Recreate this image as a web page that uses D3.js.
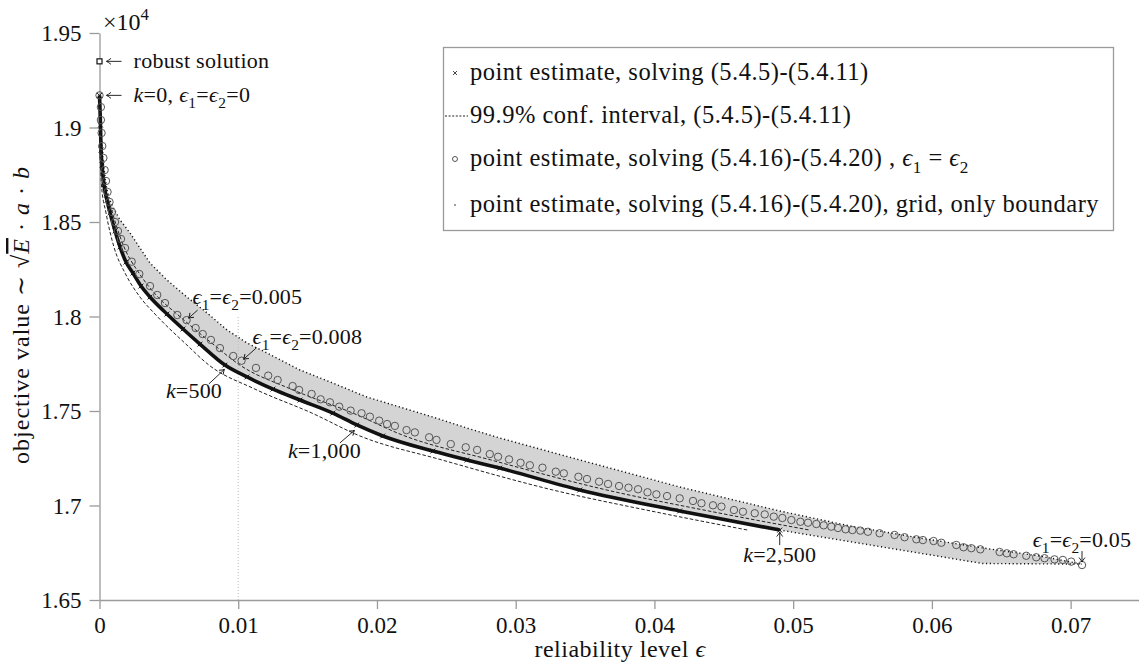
<!DOCTYPE html>
<html>
<head>
<meta charset="utf-8">
<title>objective value vs reliability level</title>
<style>
  body { margin: 0; background: #fff; }
  svg text { font-family: "Liberation Serif", "Times New Roman", "DejaVu Serif", serif; fill: #111; }
</style>
</head>
<body>
<script src="https://d3js.org/d3.v7.min.js"></script>
<script>

var width = 1139,
    height = 662,
    epsMax = 0.075,
    valMin = 1.65,
    valMax = 1.95,
    serif = "'Liberation Serif', 'Times New Roman', 'DejaVu Serif', serif";

// ticks
var epsTicks = [0, 0.01, 0.02, 0.03, 0.04, 0.05, 0.06, 0.07];
var epsTickLabels = ["0", "0.01", "0.02", "0.03", "0.04", "0.05", "0.06", "0.07"];
var valTicks = [1.65, 1.7, 1.75, 1.8, 1.85, 1.9, 1.95];
var valTickLabels = ["1.65", "1.7", "1.75", "1.8", "1.85", "1.9", "1.95"];

// point estimate, solving (5.4.5)-(5.4.11)  (k = 0 ... 2500)
var crossEps = [0, 0.00007, 0.00011, 0.00018, 0.00032, 0.00054, 0.00076, 0.00112, 0.00148, 0.00191,
                0.00241, 0.00299, 0.00364, 0.00486, 0.00602, 0.00724, 0.00904, 0.01063, 0.0125, 0.01445,
                0.01682, 0.01855, 0.02042, 0.02403, 0.02648, 0.02885, 0.03462, 0.04182, 0.04903];
var crossVal = [1.917, 1.9013, 1.8881, 1.8802, 1.8696, 1.8616, 1.8548, 1.8452, 1.8368, 1.8288,
                1.8230, 1.8161, 1.8103, 1.8013, 1.7934, 1.7854, 1.7743, 1.7680, 1.7616, 1.7558,
                1.7489, 1.7426, 1.7368, 1.7288, 1.7241, 1.7198, 1.7082, 1.6971, 1.6870];

// 99.9% confidence interval
var ciUpperEps = [0, 0.00011, 0.00043, 0.00094, 0.00177, 0.00285, 0.00421, 0.00558, 0.00818, 0.01012,
                  0.0138, 0.01826, 0.02201, 0.02821, 0.03656, 0.04391, 0.05119];
var ciLowerEps = [0, 0.00005, 0.00014, 0.00047, 0.00104, 0.00184, 0.00292, 0.004, 0.00623, 0.00789,
                  0.0112, 0.01531, 0.01877, 0.02468, 0.03268, 0.03974, 0.04672];
var ciVal = [1.917, 1.8881, 1.8696, 1.8548, 1.8368, 1.8230, 1.8103, 1.8013, 1.7854, 1.7743,
             1.7616, 1.7489, 1.7368, 1.7241, 1.7082, 1.6971, 1.6870];

// point estimate, solving (5.4.16)-(5.4.20), eps1 = eps2
var circleEps = [0, 0.0001, 0.0001, 0.00015, 0.0002, 0.00028, 0.00037, 0.00047, 0.00058, 0.00072,
                 0.0009, 0.00112, 0.00133, 0.00155, 0.00184, 0.00232, 0.00287, 0.00364, 0.00416, 0.00472,
                 0.00561, 0.00628, 0.00693, 0.00744, 0.00803, 0.00868, 0.00964, 0.01024, 0.01128, 0.01216,
                 0.01284, 0.01392, 0.01439, 0.01529, 0.01594, 0.01661, 0.01728, 0.0181, 0.01889, 0.01949,
                 0.02016, 0.02073, 0.02129, 0.02213, 0.02273, 0.02376, 0.02429, 0.02532, 0.0264, 0.02722,
                 0.02813, 0.02873, 0.02952, 0.03035, 0.03102, 0.03193, 0.03289, 0.03347, 0.03452, 0.03514,
                 0.03601, 0.03666, 0.03745, 0.03813, 0.03882, 0.0395, 0.04014, 0.04091, 0.04182, 0.04278,
                 0.04339, 0.04422, 0.04483, 0.04573, 0.04638, 0.04723, 0.04795, 0.0486, 0.04922, 0.04987,
                 0.05052, 0.05107, 0.05167, 0.0522, 0.05275, 0.05323, 0.05378, 0.05427, 0.05484, 0.05539,
                 0.05623, 0.05731, 0.05803, 0.05888, 0.05935, 0.06012, 0.06068, 0.06176, 0.06228, 0.06284,
                 0.06349, 0.06488, 0.0654, 0.06589, 0.0668, 0.06752, 0.06812, 0.06884, 0.06944, 0.07004,
                 0.07082];
var circleVal = [1.917, 1.9108, 1.904, 1.8971, 1.8902, 1.8839, 1.8775, 1.8717, 1.8659, 1.8606,
                 1.8553, 1.85, 1.8452, 1.841, 1.8362, 1.829, 1.8225, 1.8161, 1.8114, 1.8071,
                 1.8008, 1.7981, 1.7939, 1.7907, 1.7876, 1.7833, 1.7791, 1.7766, 1.7728, 1.7687,
                 1.7664, 1.7632, 1.7611, 1.759, 1.7562, 1.7546, 1.7523, 1.7502, 1.7488, 1.747,
                 1.7449, 1.7431, 1.7421, 1.7399, 1.7387, 1.7361, 1.7347, 1.7325, 1.7308, 1.7294,
                 1.7272, 1.7258, 1.7244, 1.7226, 1.7213, 1.72, 1.7179, 1.717, 1.7152, 1.714,
                 1.7126, 1.7114, 1.7103, 1.7094, 1.7086, 1.707, 1.7059, 1.705, 1.7038, 1.7024,
                 1.7012, 1.7001, 1.6994, 1.6976, 1.6967, 1.6959, 1.6953, 1.6941, 1.6934, 1.6923,
                 1.6914, 1.6909, 1.6902, 1.6895, 1.6888, 1.6881, 1.6874, 1.687, 1.6867, 1.6861,
                 1.6853, 1.6844, 1.6832, 1.6821, 1.6817, 1.6812, 1.6803, 1.6791, 1.6779, 1.6774,
                 1.6768, 1.6754, 1.6747, 1.6742, 1.6734, 1.6726, 1.6721, 1.6715, 1.6712, 1.6703,
                 1.6685];

// grid, only boundary (upper edge and lower tail)
var gridUpperEps = [0, 0.0001, 0.00025, 0.00047, 0.00068, 0.00097, 0.00148, 0.0022, 0.00292, 0.00364,
                    0.00486, 0.0063, 0.00775, 0.00919, 0.01063, 0.01207, 0.01445, 0.01682, 0.01927, 0.02165,
                    0.02403, 0.02648, 0.02885, 0.03462, 0.04182, 0.04903, 0.05407, 0.05912, 0.06416, 0.06776,
                    0.07079];
var gridUpperVal = [1.917, 1.8987, 1.8828, 1.8696, 1.8627, 1.8579, 1.8511, 1.8442, 1.8362, 1.8283,
                    1.8193, 1.8103, 1.8019, 1.7929, 1.786, 1.7807, 1.7717, 1.7648, 1.7574, 1.7521,
                    1.7468, 1.741, 1.7357, 1.7241, 1.7098, 1.6971, 1.6892, 1.6828, 1.677, 1.6733,
                    1.669];
var gridLowerEps = [0.04903, 0.06365, 0.07079];
var gridLowerVal = [1.687, 1.6693, 1.669];

var robustEps = 0, robustVal = 1.935;
var refEps = 0.01, refVal = [1.65, 1.80];

var legendLabels = [
  [["point estimate, solving (5.4.5)-(5.4.11)"]],
  [["99.9% conf. interval, (5.4.5)-(5.4.11)"]],
  [["point estimate, solving (5.4.16)-(5.4.20) , "], ["\u03f5", "i"], ["1", "sub"], [" = "], ["\u03f5", "i"], ["2", "sub"]],
  [["point estimate, solving (5.4.16)-(5.4.20), grid, only boundary"]]
];

var svg = d3.select("body").append("svg")
    .attr("width", width)
    .attr("height", height)
    .attr("font-family", serif);

var x = d3.scaleLinear().domain([0, epsMax]).range([99.5, 1140]);
var y = d3.scaleLinear().domain([valMin, valMax]).range([600, 33]);

// text with italic / sub / sup / overline pieces
function rich(sel, parts, size, spacing) {
  var shift = 0;
  sel.style("font-family", serif).style("font-size", size + "px");
  if (spacing) sel.style("letter-spacing", spacing + "px");
  parts.forEach(function (p) {
    var want = p[1] === "sub" ? size * 0.28 : (p[1] === "sup" ? -size * 0.42 : 0);
    var ts = sel.append("tspan").text(p[0]).attr("dy", want - shift);
    shift = want;
    if (p[1] === "i") ts.style("font-style", "italic");
    if (p[1] === "sub" || p[1] === "sup") ts.style("font-size", (size * 0.7) + "px");
    if (p[1] === "ov") ts.style("font-style", "italic").attr("text-decoration", "overline");
  });
  return sel;
}

var defs = svg.append("defs");
defs.append("marker")
    .attr("id", "head")
    .attr("viewBox", "-6 -4 8 8")
    .attr("markerWidth", 8).attr("markerHeight", 8)
    .attr("markerUnits", "userSpaceOnUse")
    .attr("orient", "auto")
    .append("path")
    .attr("d", "M-4.5,-3 Q-1.5,-0.6 0,0 Q-1.5,0.6 -4.5,3")
    .attr("fill", "none").attr("stroke", "#111").attr("stroke-width", 0.9);

// shaded band
var upperPts = gridUpperEps.map(function (e, i) { return [e, gridUpperVal[i]]; });
var lowerTail = gridLowerEps.map(function (e, i) { return [e, gridLowerVal[i]]; });
var crossPts = crossEps.map(function (e, i) { return [e, crossVal[i]]; });
var bandPts = upperPts.concat(lowerTail.slice().reverse(), crossPts.slice().reverse());

var line = d3.line().x(function (d) { return x(d[0]); }).y(function (d) { return y(d[1]); });
var smooth = d3.line().x(function (d) { return x(d[0]); }).y(function (d) { return y(d[1]); })
    .curve(d3.curveMonotoneX);

svg.append("path")
    .attr("d", line(bandPts) + "Z")
    .attr("fill", "#d4d4d4")
    .attr("stroke", "none");

// reference line at eps = 0.01
svg.append("line")
    .attr("x1", x(refEps)).attr("x2", x(refEps))
    .attr("y1", y(refVal[0])).attr("y2", y(refVal[1]))
    .attr("stroke", "#bbb").attr("stroke-width", 1).attr("stroke-dasharray", "1,2");

// axes
var xAxis = svg.append("g")
    .attr("transform", "translate(0," + y(valMin) + ")")
    .call(d3.axisBottom(x).tickValues(epsTicks)
          .tickFormat(function (d, i) { return epsTickLabels[i]; })
          .tickSize(9).tickSizeOuter(0).tickPadding(5));
var yAxis = svg.append("g")
    .attr("transform", "translate(" + x(0) + ",0)")
    .call(d3.axisLeft(y).tickValues(valTicks)
          .tickFormat(function (d, i) { return valTickLabels[i]; })
          .tickSize(10).tickSizeOuter(0).tickPadding(8));

[xAxis, yAxis].forEach(function (g) {
  g.attr("font-family", serif);
  g.select(".domain").attr("stroke", "#9a9a9a").attr("stroke-width", 1.3);
  g.selectAll(".tick line").attr("stroke", "#9a9a9a").attr("stroke-width", 1.3);
  g.selectAll(".tick text")
      .style("font-family", serif)
      .style("font-size", "23px")
      .attr("fill", "#111");
});
xAxis.selectAll(".tick text").attr("dy", "0.83em");
yAxis.selectAll(".tick text").attr("dy", "0.34em");

svg.append("text")
    .attr("x", 103).attr("y", 30)
    .call(rich, [["\u00d710"], ["4", "sup"]], 24);

svg.append("text")
    .attr("x", 620).attr("y", 657)
    .attr("text-anchor", "middle")
    .call(rich, [["reliability level "], ["\u03f5", "i"]], 24, 0.5);

svg.append("text")
    .attr("transform", "translate(29,315) rotate(-90)")
    .attr("text-anchor", "middle")
    .call(rich, [["objective value \u223c \u221a"], ["E", "ov"], [" \u00b7 "], ["a", "i"], [" \u00b7 "], ["b", "i"]], 24, 1);

// series: solid black crosses (dense)
svg.append("path")
    .attr("d", smooth(crossPts))
    .attr("fill", "none").attr("stroke", "#111").attr("stroke-width", 3.6);
svg.append("g").selectAll("path")
    .data(crossPts).enter().append("path")
    .attr("transform", function (d) { return "translate(" + x(d[0]) + "," + y(d[1]) + ")"; })
    .attr("d", "M-2.4,-2.4L2.4,2.4M-2.4,2.4L2.4,-2.4")
    .attr("stroke", "#111").attr("stroke-width", 1);

// confidence interval
[ciUpperEps, ciLowerEps].forEach(function (arr) {
  svg.append("path")
      .attr("d", smooth(arr.map(function (e, i) { return [e, ciVal[i]]; })))
      .attr("fill", "none").attr("stroke", "#222").attr("stroke-width", 1)
      .attr("stroke-dasharray", "3.5,2");
});

// grid boundary dots
[upperPts, lowerTail].forEach(function (pts) {
  svg.append("path")
      .attr("d", line(pts))
      .attr("fill", "none").attr("stroke", "#111").attr("stroke-width", 1.4)
      .attr("stroke-dasharray", "1.2,2.6");
});

// circles
svg.append("g").selectAll("circle")
    .data(circleEps).enter().append("circle")
    .attr("cx", function (d) { return x(d); })
    .attr("cy", function (d, i) { return y(circleVal[i]); })
    .attr("r", 3.7)
    .attr("fill", "none").attr("stroke", "#555").attr("stroke-width", 1);

// robust solution marker
svg.append("rect")
    .attr("x", x(robustEps) - 2.5).attr("y", y(robustVal) - 2.5)
    .attr("width", 5).attr("height", 5)
    .attr("fill", "#fff").attr("stroke", "#111").attr("stroke-width", 1.2);

function arrow(x1, y1, x2, y2) {
  svg.append("line")
      .attr("x1", x1).attr("y1", y1).attr("x2", x2).attr("y2", y2)
      .attr("stroke", "#111").attr("stroke-width", 0.9)
      .attr("marker-end", "url(#head)");
}

// top annotations
arrow(x(0) + 22, y(robustVal), x(0) + 7, y(robustVal));
svg.append("text").attr("x", x(0) + 34).attr("y", y(robustVal) + 6.5)
    .call(rich, [["robust solution"]], 22, 0.3);
arrow(x(0) + 22, y(circleVal[0]), x(0) + 7, y(circleVal[0]));
svg.append("text").attr("x", x(0) + 34).attr("y", y(circleVal[0]) + 6.5)
    .call(rich, [["k", "i"], ["=0, "], ["\u03f5", "i"], ["1", "sub"], ["="], ["\u03f5", "i"], ["2", "sub"], ["=0"]], 22, 0.3);

// curve annotations: target point, label text, label offset, arrow offsets
var annoEps = [circleEps[21], circleEps[27], 0.00911, 0.01848, crossEps[crossEps.length - 1], circleEps[circleEps.length - 1]];
var annoVal = [circleVal[21], circleVal[27], 1.7728, 1.7405, crossVal[crossVal.length - 1], circleVal[circleVal.length - 1]];
var annoText = [
  [["\u03f5", "i"], ["1", "sub"], ["="], ["\u03f5", "i"], ["2", "sub"], ["=0.005"]],
  [["\u03f5", "i"], ["1", "sub"], ["="], ["\u03f5", "i"], ["2", "sub"], ["=0.008"]],
  [["k", "i"], ["=500"]],
  [["k", "i"], ["=1,000"]],
  [["k", "i"], ["=2,500"]],
  [["\u03f5", "i"], ["1", "sub"], ["="], ["\u03f5", "i"], ["2", "sub"], ["=0.05"]]
];
var annoLayout = [
  {lx: 6, ly: -16, anchor: "start", ax: 11, ay: -10, bx: 2, by: -2},
  {lx: 11, ly: -17, anchor: "start", ax: 15, ay: -13, bx: 2, by: -1.5},
  {lx: -60, ly: 30, anchor: "start", ax: -17, ay: 16, bx: -1.5, by: 1.5},
  {lx: -68, ly: 29, anchor: "start", ax: -16, ay: 14, bx: -1.5, by: 1.5},
  {lx: 0, ly: 32, anchor: "middle", ax: 0, ay: 15, bx: 0, by: 2},
  {lx: 0, ly: -18, anchor: "middle", ax: 0, ay: -14, bx: 0, by: -3}
];
annoEps.forEach(function (e, i) {
  var px = x(e), py = y(annoVal[i]), L = annoLayout[i];
  arrow(px + L.ax, py + L.ay, px + L.bx, py + L.by);
  svg.append("text")
      .attr("x", px + L.lx).attr("y", py + L.ly)
      .attr("text-anchor", L.anchor)
      .call(rich, annoText[i], 22, 0.2);
});

// legend
var legend = svg.append("g");
legend.append("rect")
    .attr("x", 443.5).attr("y", 47.5).attr("width", 670).attr("height", 183)
    .attr("fill", "#fff").attr("stroke", "#9a9a9a").attr("stroke-width", 1.3);
var rowY = [73, 116, 159, 205];
legendLabels.forEach(function (parts, i) {
  legend.append("text")
      .attr("x", 470).attr("y", rowY[i] + 7)
      .call(rich, parts, 24.5, 0.5);
});
legend.append("path")
    .attr("transform", "translate(455," + rowY[0] + ")")
    .attr("d", "M-2,-2L2,2M-2,2L2,-2")
    .attr("stroke", "#333").attr("stroke-width", 0.9);
legend.append("line")
    .attr("x1", 445).attr("x2", 468).attr("y1", rowY[1]).attr("y2", rowY[1])
    .attr("stroke", "#222").attr("stroke-width", 1).attr("stroke-dasharray", "2,1.6");
legend.append("circle")
    .attr("cx", 455).attr("cy", rowY[2]).attr("r", 2.5)
    .attr("fill", "none").attr("stroke", "#444").attr("stroke-width", 0.9);
legend.append("circle")
    .attr("cx", 455).attr("cy", rowY[3]).attr("r", 0.8)
    .attr("fill", "#222");

</script>
</body>
</html>
